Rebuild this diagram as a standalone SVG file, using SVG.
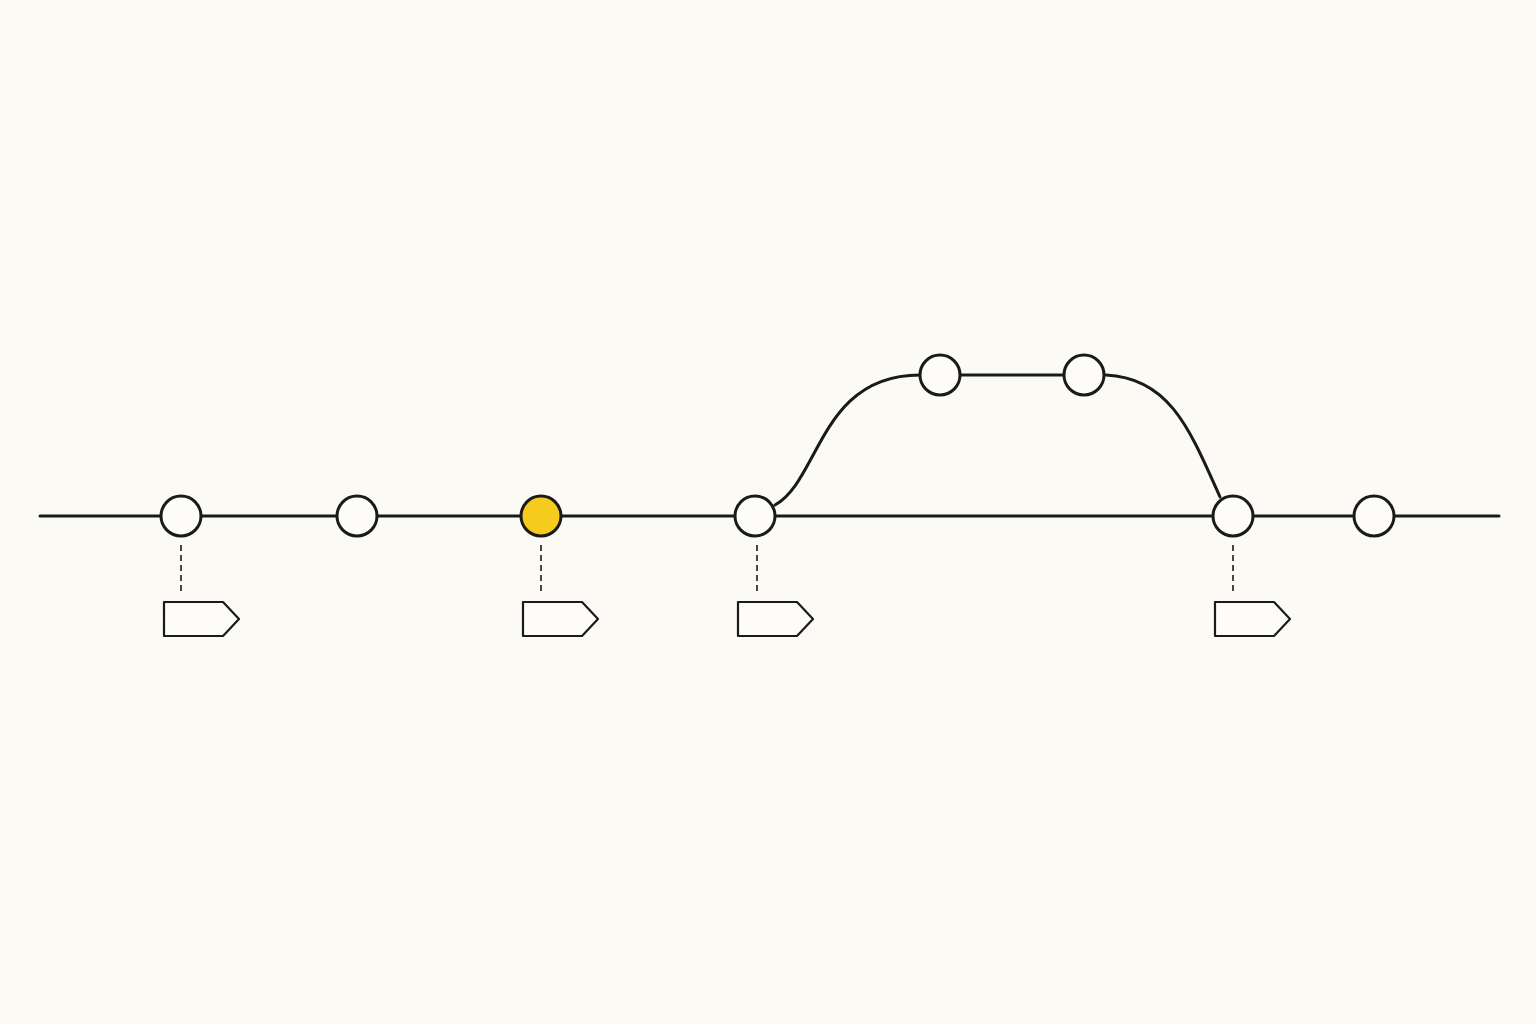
<svg xmlns="http://www.w3.org/2000/svg" width="1536" height="1024" viewBox="0 0 1536 1024">
<style>
.ln{fill:none;stroke:#1a1a1a;stroke-width:3;stroke-linecap:round}
.dash{fill:none;stroke:#1a1a1a;stroke-width:1.6;stroke-dasharray:6 4}
.node{fill:#fdfcf8;stroke:#1a1a1a;stroke-width:3}
.hl{fill:#f5cc1e}
.tag{fill:#fdfcf8;stroke:#1a1a1a;stroke-width:2.2;stroke-linejoin:round}
</style>
<rect width="1536" height="1024" fill="#fbfaf5"/>
<g id="connectors">
<line class="ln" x1="40" y1="516" x2="1499" y2="516"/>
<path class="ln" d="M775,505 C820,480 820,375 920,375"/>
<line class="ln" x1="960" y1="375" x2="1064" y2="375"/>
<path class="ln" d="M1106,375 C1170,378 1190,430 1220,497"/>
<line class="dash" x1="181" y1="545" x2="181" y2="594"/>
<line class="dash" x1="541" y1="545" x2="541" y2="594"/>
<line class="dash" x1="757" y1="545" x2="757" y2="594"/>
<line class="dash" x1="1233" y1="545" x2="1233" y2="594"/>
</g>
<g id="c1"><circle class="node" cx="181" cy="516" r="20"/></g>
<g id="c2"><circle class="node" cx="357" cy="516" r="20"/></g>
<g id="c3"><circle class="node hl" cx="541" cy="516" r="20"/></g>
<g id="c4"><circle class="node" cx="755" cy="516" r="20"/></g>
<g id="c5"><circle class="node" cx="940" cy="375" r="20"/></g>
<g id="c6"><circle class="node" cx="1084" cy="375" r="20"/></g>
<g id="c7"><circle class="node" cx="1233" cy="516" r="20"/></g>
<g id="c8"><circle class="node" cx="1374" cy="516" r="20"/></g>
<g id="t1"><path class="tag" d="M164,602 H223 L239,619 L223,636 H164 Z"/></g>
<g id="t2"><path class="tag" d="M523,602 H582 L598,619 L582,636 H523 Z"/></g>
<g id="t3"><path class="tag" d="M738,602 H797 L813,619 L797,636 H738 Z"/></g>
<g id="t4"><path class="tag" d="M1215,602 H1274 L1290,619 L1274,636 H1215 Z"/></g>
</svg>
